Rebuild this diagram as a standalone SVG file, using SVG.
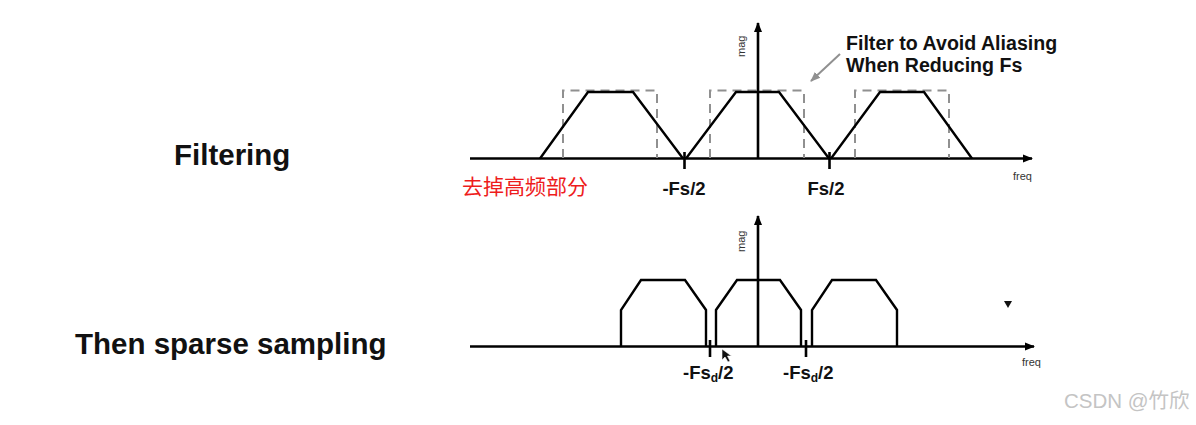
<svg xmlns="http://www.w3.org/2000/svg" width="1196" height="425" viewBox="0 0 1196 425">
<defs>
<style>
.ax{stroke:#000;stroke-width:2.6;fill:none}
.sh{stroke:#000;stroke-width:2.4;fill:none;stroke-linejoin:miter}
.dash{stroke:#909090;stroke-width:2;fill:none;stroke-dasharray:9 6}
.lbl{font-family:"Liberation Sans",Arial,sans-serif;font-weight:bold;fill:#111}
.sm{font-family:"Liberation Sans",Arial,sans-serif;font-size:11px;fill:#333}
.title{font-family:"Liberation Sans",Arial,sans-serif;font-weight:bold;font-size:29.5px;fill:#111}
</style>
<marker id="ah" markerWidth="10" markerHeight="10" refX="9" refY="5" orient="auto" markerUnits="userSpaceOnUse" viewBox="0 0 10 10">
<path d="M0,1 L10,5 L0,9 z" fill="#000"/>
</marker>
<marker id="ahg" markerWidth="10" markerHeight="10" refX="9" refY="5" orient="auto" markerUnits="userSpaceOnUse" viewBox="0 0 10 10">
<path d="M0,1 L10,5 L0,9 z" fill="#909090"/>
</marker>
</defs>
<rect width="1196" height="425" fill="#fff"/>

<g id="label-filtering"><text class="title" x="174" y="165">Filtering</text></g>
<g id="label-sparse"><text class="title" x="75" y="354">Then sparse sampling</text></g>

<g id="top-plot">
<g id="top-axes">
<line class="ax" x1="470" y1="158.5" x2="1032" y2="158.5" marker-end="url(#ah)"/>
<line class="ax" x1="758" y1="158.5" x2="758" y2="23" marker-end="url(#ah)"/>
<line class="ax" x1="684.5" y1="152" x2="684.5" y2="169"/>
<line class="ax" x1="829.5" y1="152" x2="829.5" y2="169"/>
<text class="sm" transform="translate(745,57) rotate(-90)">mag</text>
<text class="sm" x="1013" y="180">freq</text>
</g>
<g id="top-filters">
<path class="dash" d="M563,158 V90.5 H657 V158"/>
<path class="dash" d="M710,158 V90.5 H804 V158"/>
<path class="dash" d="M855,158 V90.5 H949 V158"/>
</g>
<g id="top-spectra">
<path class="sh" d="M540,158.5 L588,92 L633,92 L683,158.5"/>
<path class="sh" d="M686,158.5 L736,92 L779,92 L829,158.5"/>
<path class="sh" d="M831,158.5 L880,92 L924,92 L972,158.5"/>
</g>
<g id="top-labels">
<text class="lbl" x="684" y="195" font-size="18.5" text-anchor="middle">-Fs/2</text>
<text class="lbl" x="826" y="195" font-size="18.5" text-anchor="middle">Fs/2</text>
<text x="462" y="194" font-size="21" fill="#ee1c1c" font-family="'Noto Sans CJK SC','Noto Sans CJK JP',sans-serif">去掉高频部分</text>
</g>
<g id="annotation">
<line x1="840" y1="54" x2="811" y2="81" stroke="#909090" stroke-width="2" marker-end="url(#ahg)"/>
<text class="lbl" x="846" y="50" font-size="19.6" fill="#222">Filter to Avoid Aliasing</text>
<text class="lbl" x="846" y="72" font-size="19.6" fill="#222">When Reducing Fs</text>
</g>
</g>

<g id="bottom-plot">
<g id="bottom-axes">
<line class="ax" x1="470" y1="346.5" x2="1034" y2="346.5" marker-end="url(#ah)"/>
<line class="ax" x1="758" y1="346.5" x2="758" y2="216" marker-end="url(#ah)"/>
<line class="ax" x1="710" y1="340" x2="710" y2="357"/>
<line class="ax" x1="806" y1="340" x2="806" y2="357"/>
<text class="sm" transform="translate(745,252) rotate(-90)">mag</text>
<text class="sm" x="1022" y="366">freq</text>
</g>
<g id="bottom-spectra">
<path class="sh" d="M621,346.5 V310 L641,280 L685,280 L706,310 V346.5"/>
<path class="sh" d="M716,346.5 V310 L737,280 L780,280 L801,310 V346.5"/>
<path class="sh" d="M812,346.5 V310 L832,280 L876,280 L897,310 V346.5"/>
</g>
<g id="bottom-labels">
<text class="lbl" x="683" y="379" font-size="18.5">-Fs<tspan font-size="12" dy="3">d</tspan><tspan dy="-3">/2</tspan></text>
<text class="lbl" x="783" y="379" font-size="18.5">-Fs<tspan font-size="12" dy="3">d</tspan><tspan dy="-3">/2</tspan></text>
</g>
<g id="artifacts">
<path d="M722,349 L722,360 L725,357 L728,362 L730,361 L727.5,356 L731.5,356 z" fill="#111" stroke="#fff" stroke-width="0.6"/>
<path d="M1004,301 L1012,301 L1008,308 z" fill="#111"/>
</g>
</g>

<g id="watermark"><text x="1064" y="408" font-size="20.5" fill="#c4c4c4" font-family="'Liberation Sans','Noto Sans CJK SC',sans-serif">CSDN @竹欣</text></g>
</svg>
